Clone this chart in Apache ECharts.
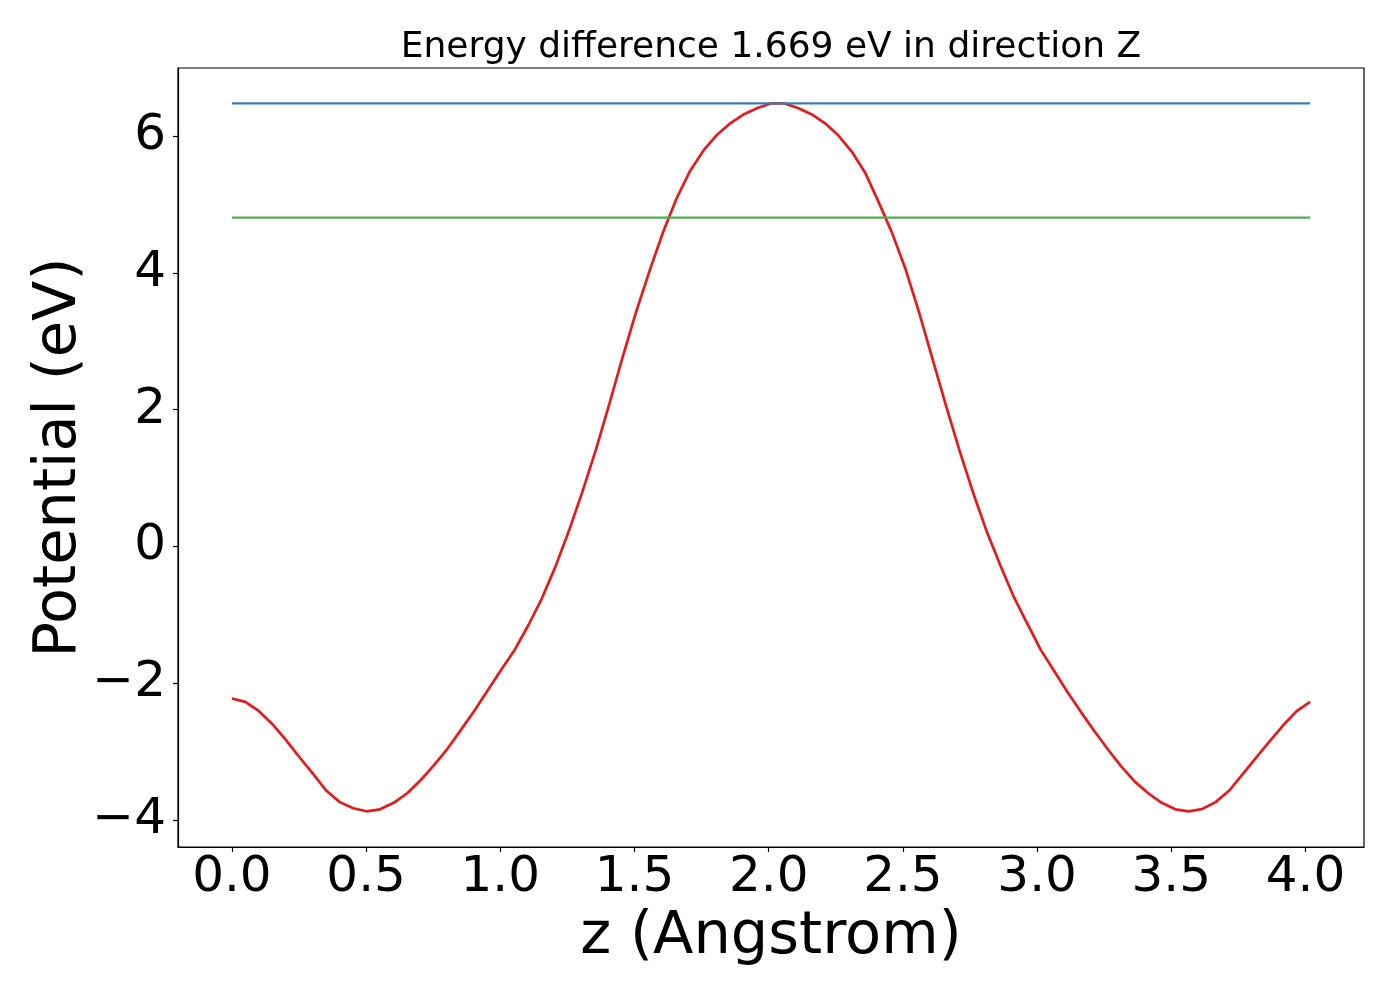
<!DOCTYPE html>
<html>
<head>
<meta charset="utf-8">
<title>Energy difference</title>
<script src="https://cdn.jsdelivr.net/npm/echarts@6/dist/echarts.min.js"></script>
<style>
  html, body { margin: 0; padding: 0; background: #fff; }
  #main { width: 1400px; height: 1000px; }
</style>
</head>
<body>
<div id="main"></div>
<script>
// z 坐标 (Angstrom)
var zArr = [
  0.000, 0.050, 0.100, 0.151, 0.201, 0.251, 0.301, 0.351, 0.402, 0.452,
  0.502, 0.552, 0.603, 0.653, 0.703, 0.753, 0.803, 0.854, 0.904, 0.954,
  1.004, 1.054, 1.105, 1.155, 1.205, 1.255, 1.305, 1.356, 1.406, 1.456,
  1.506, 1.557, 1.607, 1.657, 1.707, 1.757, 1.808, 1.858, 1.908, 1.958,
  2.008, 2.059, 2.109, 2.159, 2.209, 2.259, 2.310, 2.360, 2.410, 2.460,
  2.511, 2.561, 2.611, 2.661, 2.711, 2.762, 2.812, 2.862, 2.912, 2.962,
  3.013, 3.063, 3.113, 3.163, 3.213, 3.264, 3.314, 3.364, 3.414, 3.464,
  3.515, 3.565, 3.615, 3.665, 3.716, 3.766, 3.816, 3.866, 3.916, 3.967,
  4.017
];

// 势能 (eV)
var potential = [
  -2.224, -2.274, -2.406, -2.60, -2.83, -3.08, -3.32, -3.57, -3.74, -3.83,
  -3.874, -3.845, -3.75, -3.61, -3.42, -3.20, -2.96, -2.68, -2.40, -2.10,
  -1.80, -1.51, -1.15, -0.76, -0.30, 0.22, 0.79, 1.41, 2.08, 2.77,
  3.43, 4.04, 4.60, 5.09, 5.49, 5.79, 6.02, 6.19, 6.32, 6.41,
  6.477, 6.477, 6.41, 6.32, 6.19, 6.01, 5.77, 5.46, 5.03, 4.58,
  4.04, 3.41, 2.73, 2.05, 1.40, 0.78, 0.22, -0.27, -0.73, -1.12,
  -1.51, -1.82, -2.13, -2.42, -2.70, -2.97, -3.22, -3.44, -3.61, -3.75,
  -3.845, -3.874, -3.84, -3.74, -3.57, -3.33, -3.09, -2.85, -2.62, -2.41,
  -2.274
];

// 两条水平能级线
var topLevel = 6.477;
var lowLevel = 4.808;

// 刻度
var xTicks = [0.0, 0.5, 1.0, 1.5, 2.0, 2.5, 3.0, 3.5, 4.0];
var yTicks = [-4, -2, 0, 2, 4, 6];

var chart = echarts.init(document.getElementById('main'));

var curve = zArr.map(function (z, i) { return [z, potential[i]]; });
var zFirst = zArr[0], zLast = zArr[zArr.length - 1];

var font = 'DejaVu Sans';

var option = {
  animation: false,
  backgroundColor: '#fff',
  title: {
    text: 'Energy difference 1.669 eV in direction Z',
    left: 766,
    textAlign: 'center',
    top: 25,
    textStyle: { fontFamily: font, fontSize: 36, fontWeight: 'normal', color: '#000' }
  },
  grid: {
    left: 178, right: 36, top: 68, bottom: 153,
    show: true, borderColor: '#000', borderWidth: 1.2, backgroundColor: '#fff'
  },
  xAxis: {
    type: 'value',
    min: -0.2009,
    max: 4.2179,
    name: 'z (Angstrom)',
    nameLocation: 'middle',
    nameGap: 61,
    nameMoveOverlap: false,
    nameTextStyle: { fontFamily: font, fontSize: 59, color: '#000' },
    axisLine: { show: true, onZero: false, lineStyle: { color: '#000', width: 1.2 } },
    axisTick: { show: true, inside: false, length: 5, customValues: xTicks, lineStyle: { color: '#000', width: 1.2 } },
    axisLabel: {
      customValues: xTicks,
      margin: 6,
      fontFamily: font, fontSize: 50, color: '#000',
      formatter: function (v) { return Number(v).toFixed(1); }
    },
    splitLine: { show: false }
  },
  yAxis: {
    type: 'value',
    min: -4.396,
    max: 6.995,
    name: 'Potential (eV)',
    nameLocation: 'middle',
    nameGap: 89,
    nameRotate: 90,
    nameMoveOverlap: false,
    nameTextStyle: { fontFamily: font, fontSize: 59, color: '#000' },
    axisLine: { show: true, onZero: false, lineStyle: { color: '#000', width: 1.2 } },
    axisTick: { show: true, inside: false, length: 5, customValues: yTicks, lineStyle: { color: '#000', width: 1.2 } },
    axisLabel: {
      customValues: yTicks,
      margin: 12,
      fontFamily: font, fontSize: 50, color: '#000',
      formatter: function (v) { return v < 0 ? '\u2212' + Math.abs(v) : String(v); }
    },
    splitLine: { show: false }
  },
  series: [
    {
      name: 'potential',
      type: 'line',
      data: curve,
      showSymbol: false,
      smooth: false,
      lineStyle: { color: '#e41a1c', width: 2.7 },
      z: 2
    },
    {
      name: 'top',
      type: 'line',
      data: [[zFirst, topLevel], [zLast, topLevel]],
      showSymbol: false,
      lineStyle: { color: '#377eb8', width: 2.2 },
      z: 3
    },
    {
      name: 'low',
      type: 'line',
      data: [[zFirst, lowLevel], [zLast, lowLevel]],
      showSymbol: false,
      lineStyle: { color: '#4daf4a', width: 2.2 },
      z: 3
    }
  ]
};

chart.setOption(option);
</script>
</body>
</html>
